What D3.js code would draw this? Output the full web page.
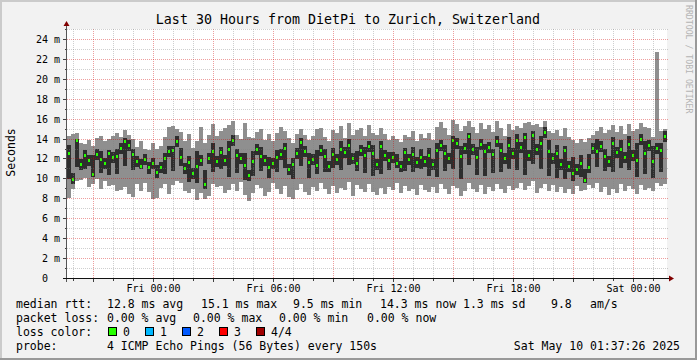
<!DOCTYPE html>
<html><head><meta charset="utf-8">
<script src="https://cdn.jsdelivr.net/npm/d3@7"></script>
<style>
html,body{margin:0;padding:0;background:#fff;}
svg{display:block;}
text{font-family:"DejaVu Sans Mono",monospace;}
</style></head><body>
<svg id="chart" width="697" height="360"></svg>
<script>
const title = "Last 30 Hours from DietPi to Zurich, Switzerland";
const yAxisTitle = "Seconds";
const watermark = "RRDTOOL / TOBI OETIKER";
const startTime = new Date("2025-05-08T19:40:00Z");
const endTime = new Date("2025-05-10T01:40:00Z");
const stepMinutes = 12;

// ping round trip times (ms), one entry per 12-minute column
const minRtt = [
 8.1,9.0,9.8,9.9,10.1,9.2,9.5,10.0,9.0,9.8,
 9.3,9.4,8.8,8.9,9.2,8.5,8.2,9.5,8.8,9.6,
 8.7,8.0,8.1,9.1,9.5,8.5,9.4,9.8,9.6,8.8,
 8.6,9.0,7.9,8.6,8.0,8.3,9.5,9.2,9.3,8.6,
 8.9,9.5,8.8,9.7,8.4,7.8,8.6,9.4,9.1,8.3,
 8.7,9.6,9.0,8.5,9.3,8.2,8.0,8.9,9.5,8.7,
 8.4,9.2,8.8,9.6,9.0,8.5,9.3,8.6,9.1,8.9,
 9.7,8.3,9.4,9.0,8.7,9.5,8.7,8.4,9.1,8.5,
 9.2,8.9,9.6,8.6,9.3,8.8,9.0,8.4,9.4,8.9,
 8.7,9.2,8.6,9.5,9.0,8.5,9.3,9.1,8.3,8.8,
 9.6,9.0,8.7,9.4,8.5,9.2,8.8,9.5,9.0,8.6,
 9.3,8.9,9.1,9.6,8.9,9.3,9.8,8.6,9.1,9.5,
 8.8,9.4,8.7,9.2,8.6,9.0,8.5,9.3,8.8,8.9,
 9.4,9.1,9.6,8.7,9.2,8.4,9.0,8.6,9.5,8.8,
 9.3,9.0,8.5,9.4,8.9,9.1,8.8,9.6,9.3,9.5
];
const lowRtt = [
 10.0,9.5,11.2,10.9,11.0,11.3,10.2,11.9,10.6,11.0,
 10.4,11.6,10.5,12.5,11.3,12.8,10.9,11.2,11.0,11.4,
 10.5,11.0,10.1,10.6,10.5,12.2,10.8,13.2,11.3,10.5,
 9.7,10.0,9.6,11.3,9.0,11.5,10.7,11.2,11.0,11.3,
 10.2,13.3,10.6,11.5,9.9,9.8,10.3,12.4,10.8,11.3,
 10.1,11.0,10.7,11.9,11.1,10.4,10.0,12.0,11.3,12.2,
 10.1,11.4,10.5,12.3,10.7,10.7,11.1,11.4,10.9,12.1,
 11.4,11.5,10.8,12.3,10.6,12.7,10.3,10.9,10.5,11.8,
 10.9,11.6,11.1,10.7,10.8,11.4,10.7,11.1,11.0,11.2,
 10.3,10.9,10.2,12.8,10.8,11.5,11.0,13.0,10.0,12.5,
 11.4,12.4,10.4,12.9,10.3,12.6,10.6,13.2,10.7,11.5,
 11.0,12.0,10.9,12.6,10.4,11.8,11.5,12.4,11.0,14.1,
 10.3,11.5,10.1,10.9,10.0,10.7,9.8,10.4,10.2,9.6,
 10.6,12.5,11.2,12.7,10.8,11.2,10.7,12.1,11.1,11.6,
 10.9,11.8,10.2,13.4,10.5,12.8,10.1,12.5,10.7,13.7
];
const medianRtt = [
 12.6,10.0,13.9,11.5,12.4,11.9,10.5,12.5,12.0,11.6,
 12.6,12.2,12.3,13.1,13.8,13.4,12.5,11.8,11.3,12.0,
 11.2,11.6,10.7,11.2,12.1,12.8,12.9,13.8,12.2,11.1,
 11.7,10.6,11.3,11.9,9.5,12.1,12.8,11.8,12.7,11.9,
 13.0,13.9,12.4,12.1,11.4,10.4,11.8,13.0,12.3,11.9,
 11.2,11.6,12.2,12.5,13.1,11.0,11.5,12.6,13.7,12.8,
 11.7,12.0,11.4,12.9,12.3,11.3,12.5,12.0,13.0,12.7,
 13.4,12.1,11.6,12.9,12.4,13.3,12.6,11.5,13.3,12.4,
 11.9,12.2,11.6,11.3,12.7,12.0,12.5,11.7,12.2,11.8,
 12.4,11.5,12.9,13.4,12.6,12.1,13.9,13.6,12.3,13.1,
 14.3,13.0,12.2,13.5,12.8,13.2,12.5,13.8,12.9,12.1,
 13.4,12.6,13.9,13.2,14.2,12.4,14.4,13.0,13.6,14.7,
 12.8,12.1,12.6,11.5,12.9,11.3,10.6,11.0,11.6,9.9,
 11.2,13.1,12.8,13.3,12.3,11.8,13.6,12.7,13.0,12.2,
 13.5,12.4,11.9,14.0,12.6,13.4,11.8,13.1,12.9,14.3
];
const highRtt = [
 13.4,10.6,14.0,12.0,12.9,12.4,12.4,13.0,12.8,12.1,
 12.9,12.7,13.0,13.6,14.1,13.9,13.0,12.3,12.0,12.5,
 11.7,12.1,11.4,11.7,12.6,13.3,13.3,14.3,13.1,11.6,
 12.3,11.1,12.8,12.4,10.9,12.6,13.6,12.3,13.2,12.4,
 13.8,14.4,13.0,12.6,12.6,10.9,12.8,13.5,13.2,12.4,
 12.2,12.1,12.9,13.0,13.6,11.5,12.1,13.1,14.1,13.3,
 12.6,12.5,12.9,13.4,13.0,11.8,13.1,12.5,13.8,13.2,
 14.0,12.6,12.8,13.4,13.2,13.8,13.4,12.0,13.8,12.9,
 12.7,12.7,12.5,11.8,13.1,12.5,13.2,12.2,13.0,12.3,
 13.1,12.0,13.6,13.9,13.4,12.6,14.3,14.1,13.3,13.6,
 14.6,13.5,13.2,14.0,13.5,13.7,13.0,14.3,13.6,12.6,
 14.2,13.1,14.5,13.7,14.6,12.9,14.8,13.5,14.3,15.2,
 13.9,12.6,13.4,12.0,13.3,11.8,12.2,11.5,12.4,11.0,
 12.5,13.6,14.0,13.8,13.0,12.3,14.2,13.2,13.9,12.7,
 14.3,12.9,13.6,14.5,13.8,13.9,13.3,13.6,13.6,14.8
];
const maxRtt = [
 14.3,14.5,14.6,13.6,13.5,13.9,13.3,14.1,14.3,13.8,
 14.0,14.3,14.6,14.2,14.9,14.4,14.0,13.2,13.8,13.0,
 12.9,13.6,13.0,13.3,14.2,15.2,15.3,15.0,14.7,13.8,
 14.5,13.1,13.8,15.2,13.6,14.4,15.5,14.3,14.8,15.1,
 15.4,15.8,14.4,14.0,15.6,14.2,14.1,14.7,15.0,13.9,
 14.5,13.8,14.6,15.2,14.8,14.1,13.6,14.5,15.0,14.4,
 13.9,14.3,15.0,15.1,14.2,13.8,14.9,14.6,15.3,14.1,
 15.6,14.4,14.9,15.1,14.3,15.4,14.6,14.4,15.1,14.5,
 13.9,14.3,14.0,13.7,14.4,14.2,14.8,13.8,14.5,14.1,
 14.6,13.9,15.2,15.7,15.1,14.4,15.9,15.5,14.8,15.3,
 15.8,15.2,14.6,15.6,15.0,15.4,14.7,15.8,15.1,14.3,
 15.5,14.9,15.3,15.1,15.6,15.7,15.4,15.5,15.2,15.8,
 14.8,14.6,14.9,14.3,15.1,14.2,13.9,13.6,14.0,13.7,
 14.1,14.4,14.8,15.2,14.6,14.9,15.4,14.7,15.3,14.5,
 15.5,14.8,15.0,15.6,15.2,15.1,14.2,22.7,14.8,15.0
];

const yTickValues = [0,2,4,6,8,10,12,14,16,18,20,22,24];
const yMax = 25;

const legendRtt = ["median rtt:", "12.8 ms avg", "15.1 ms max", "9.5 ms min", "14.3 ms now", "1.3 ms sd", "9.8", "am/s"];
const legendLoss = ["packet loss:", "0.00 % avg", "0.00 % max", "0.00 % min", "0.00 % now"];
const lossLabels = ["0", "1", "2", "3", "4/4"];
const lossColors = ["#26ff00", "#00b8ff", "#0059ff", "#ff0000", "#a00000"];
const probeText = ["probe:", "4 ICMP Echo Pings (56 Bytes) every 150s"];
const stampText = "Sat May 10 01:37:26 2025";

const svg = d3.select("#chart");
const W = 697, H = 360;
const L = 67, R = 667, T = 29, B = 278.5;

// frame
svg.append("rect").attr("width", W).attr("height", H).attr("fill", "#f2f2f2");
svg.append("rect").attr("x",0).attr("y",0).attr("width",W).attr("height",2).attr("fill","#cbcbcb");
svg.append("rect").attr("x",0).attr("y",0).attr("width",2).attr("height",H).attr("fill","#cbcbcb");
svg.append("rect").attr("x",0).attr("y",H-2).attr("width",W).attr("height",2).attr("fill","#999999");
svg.append("rect").attr("x",W-2).attr("y",0).attr("width",2).attr("height",H).attr("fill","#999999");

svg.append("rect").attr("x", L).attr("y", T).attr("width", R - L).attr("height", 249).attr("fill", "#ffffff");

const x = d3.scaleUtc().domain([startTime, endTime]).range([L, R]);
const y = d3.scaleLinear().domain([0, yMax]).range([B, T + 0.5]);

const rows = minRtt.map((v, i) => ({
  t0: d3.utcMinute.offset(startTime, i * stepMinutes),
  t1: d3.utcMinute.offset(startTime, (i + 1) * stepMinutes),
  mn: v, lo: lowRtt[i], md: medianRtt[i], hi: highRtt[i], mx: maxRtt[i]
}));

const gData = svg.append("g");
gData.selectAll("rect.outer").data(rows).join("rect")
  .attr("x", d => Math.round(x(d.t0)))
  .attr("width", d => Math.round(x(d.t1)) - Math.round(x(d.t0)))
  .attr("y", d => Math.round(y(d.mx)))
  .attr("height", d => Math.round(y(d.mn)) - Math.round(y(d.mx)))
  .attr("fill", "#8f8f8f");
gData.selectAll("rect.inner").data(rows).join("rect")
  .attr("x", d => Math.round(x(d.t0)))
  .attr("width", d => Math.round(x(d.t1)) - Math.round(x(d.t0)))
  .attr("y", d => Math.round(y(d.hi)))
  .attr("height", d => Math.round(y(d.lo)) - Math.round(y(d.hi)))
  .attr("fill", "#2e2e2e");
gData.selectAll("rect.med").data(rows).join("rect")
  .attr("x", d => Math.round(x(d.t0)) + 1)
  .attr("width", 2)
  .attr("y", d => Math.round(y(d.md)) - 1)
  .attr("height", 3)
  .attr("fill", lossColors[0]);

// grid
const minorCol = "rgba(128,128,128,0.38)";
const majorCol = "rgba(210,0,0,0.38)";
const gGrid = svg.append("g").attr("stroke-width", 1).attr("stroke-dasharray", "1,1");
const hourTicks = x.ticks(d3.utcHour.every(1));
hourTicks.forEach(t => {
  const px = Math.floor(x(t)) + 0.5;
  const major = t.getUTCHours() % 3 === 0;
  gGrid.append("line").attr("x1", px).attr("x2", px).attr("y1", T).attr("y2", 278)
    .attr("stroke", major ? majorCol : minorCol);
});
d3.range(1, yMax + 1).forEach(v => {
  const py = Math.floor(y(v)) + 0.5;
  const major = v % 2 === 0;
  gGrid.append("line").attr("x1", L).attr("x2", R + 1).attr("y1", py).attr("y2", py)
    .attr("stroke", major ? majorCol : minorCol);
});

// ticks
const gTick = svg.append("g").attr("stroke", "#404040").attr("stroke-width", 1);
d3.range(1, yMax + 1).forEach(v => {
  const py = Math.floor(y(v)) + 0.5;
  gTick.append("line").attr("x1", v % 2 === 0 ? 63 : 65).attr("x2", 67).attr("y1", py).attr("y2", py);
});
hourTicks.forEach(t => {
  const px = Math.floor(x(t)) + 0.5;
  const major = t.getUTCHours() % 3 === 0;
  gTick.append("line").attr("x1", px).attr("x2", px).attr("y1", 279).attr("y2", major ? 282 : 281);
});

// axes
svg.append("line").attr("x1", 66.5).attr("x2", 66.5).attr("y1", 282).attr("y2", 25).attr("stroke", "#555").attr("stroke-width", 1);
svg.append("line").attr("x1", 63).attr("x2", 670).attr("y1", 278.5).attr("y2", 278.5).attr("stroke", "#111").attr("stroke-width", 1);
svg.append("polygon").attr("points", "63.5,26 69.5,26 66.5,21").attr("fill", "#800000");
svg.append("polygon").attr("points", "669,275.5 669,281.5 674,278.5").attr("fill", "#800000");

// y labels
svg.append("g").selectAll("text").data(yTickValues).join("text")
  .attr("x", d => d === 0 ? 48 : 60)
  .attr("y", d => Math.floor(y(d)) + 4)
  .attr("text-anchor", "end")
  .attr("font-size", "10px")
  .attr("fill", "#000")
  .text(d => d === 0 ? "0" : d + " m");

// x labels
const fmt = d3.utcFormat("%a %H:%M");
svg.append("g").selectAll("text").data(x.ticks(d3.utcHour.every(6))).join("text")
  .attr("x", d => Math.floor(x(d)) + 0.5)
  .attr("y", 292)
  .attr("text-anchor", "middle")
  .attr("font-size", "10px")
  .attr("fill", "#000")
  .text(d => fmt(d));

// title
svg.append("text").attr("x", 348).attr("y", 24).attr("text-anchor", "middle")
  .attr("font-size", "13.3px").attr("fill", "#000").text(title);
svg.append("text").attr("transform", "translate(15,152.5) rotate(-90)").attr("text-anchor", "middle")
  .attr("font-size", "11.5px").attr("fill", "#000").text(yAxisTitle);
svg.append("text").attr("transform", "translate(686,5) rotate(90)")
  .attr("font-size", "8.2px").attr("fill", "#b4b4b4").text(watermark);

// legend
const lg = svg.append("g").attr("font-size", "11.5px").attr("fill", "#000");
const rttX = [16, 107, 201, 293, 380, 463, 551, 590];
legendRtt.forEach((s, i) => lg.append("text").attr("x", rttX[i]).attr("y", 308).text(s));
const lossX = [16, 107, 193, 279, 367];
legendLoss.forEach((s, i) => lg.append("text").attr("x", lossX[i]).attr("y", 322).text(s));
lg.append("text").attr("x", 16).attr("y", 336).text("loss color:");
const swX = [108.5, 145.5, 182.5, 219.5, 256.5];
lossLabels.forEach((s, i) => {
  lg.append("rect").attr("x", swX[i]).attr("y", 327.5).attr("width", 8).attr("height", 8)
    .attr("fill", lossColors[i]).attr("stroke", "#000").attr("stroke-width", 1);
  lg.append("text").attr("x", swX[i] + 14.5).attr("y", 336).text(s);
});
lg.append("text").attr("x", 16).attr("y", 350).text(probeText[0]);
lg.append("text").attr("x", 107).attr("y", 350).text(probeText[1]);
lg.append("text").attr("x", 680).attr("y", 350).attr("text-anchor", "end").text(stampText);
</script>
</body></html>
